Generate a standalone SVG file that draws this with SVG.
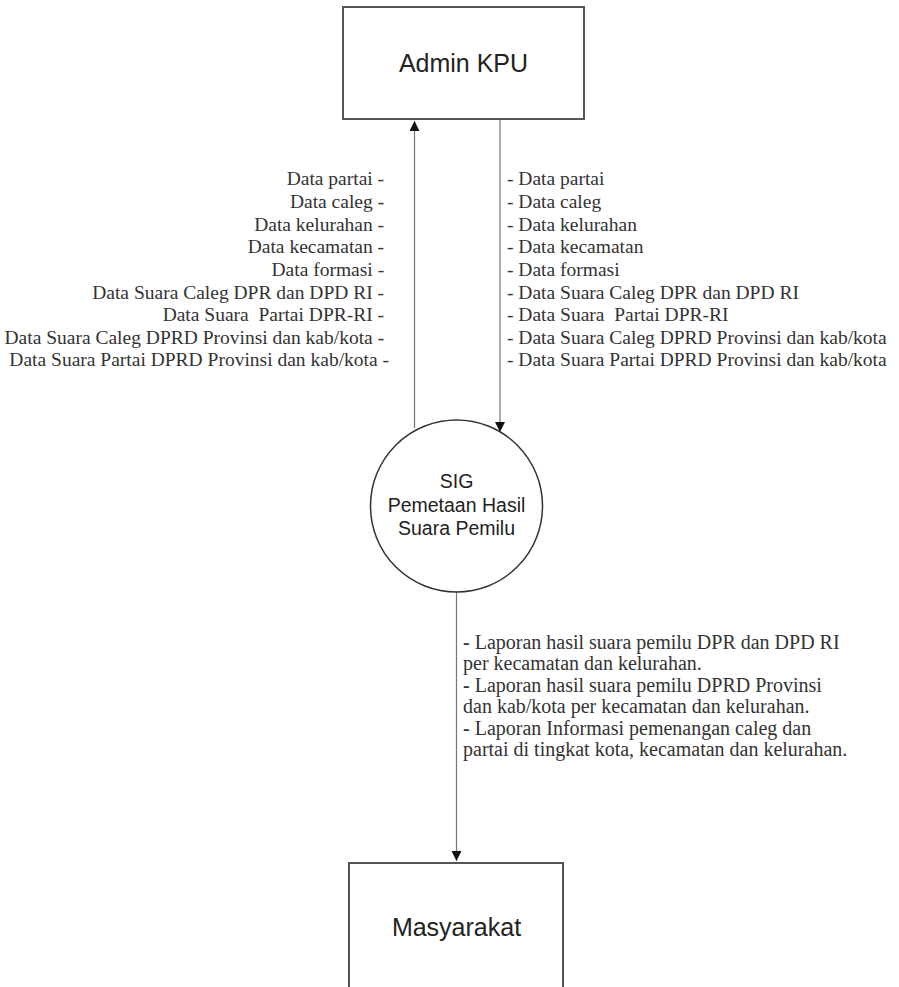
<svg xmlns="http://www.w3.org/2000/svg" width="899" height="987" viewBox="0 0 899 987">
<style>
.box{fill:#fff;stroke:#555;stroke-width:2}
.circ{fill:#fff;stroke:#333;stroke-width:1.5}
.node{font-family:"Liberation Sans",Arial,sans-serif;fill:#222;text-anchor:middle}
.lbl{font-family:"Liberation Serif","Times New Roman",serif;font-size:19.5px;fill:#333}
.rep{font-size:20px}
.flow{stroke:#777;stroke-width:1.2;fill:none}
</style>
<defs>
<marker id="ah" viewBox="0 0 10 12" refX="10" refY="5" markerWidth="10" markerHeight="12" markerUnits="userSpaceOnUse" orient="auto">
<path d="M0,0 L10,5 L0,10 Z" fill="#111"/>
</marker>
</defs>
<rect width="899" height="987" fill="#fff"/>
<g id="connectors">
<line class="flow" x1="414.5" y1="428" x2="414.5" y2="121" marker-end="url(#ah)"/>
<line class="flow" x1="500" y1="120" x2="500" y2="432" marker-end="url(#ah)"/>
<line class="flow" x1="456.5" y1="591" x2="456.5" y2="861" marker-end="url(#ah)"/>
</g>
<g id="admin-kpu">
<rect class="box" x="343" y="7" width="241" height="112"/>
<text class="node" x="463.5" y="72" font-size="25">Admin KPU</text>
</g>
<g id="sig">
<circle class="circ" cx="456.5" cy="506" r="86"/>
<text class="node" font-size="19.5"><tspan x="456.5" y="488">SIG</tspan><tspan x="456.5" y="512">Pemetaan Hasil</tspan><tspan x="456.5" y="535">Suara Pemilu</tspan></text>
</g>
<g id="masyarakat">
<rect class="box" x="349" y="863" width="214" height="140"/>
<text class="node" x="456.5" y="936" font-size="25">Masyarakat</text>
</g>
<g id="label-up">
<text class="lbl" text-anchor="end">
<tspan x="389" y="185">Data partai -</tspan>
<tspan x="389" y="208">Data caleg -</tspan>
<tspan x="389" y="231">Data kelurahan -</tspan>
<tspan x="389" y="253">Data kecamatan -</tspan>
<tspan x="389" y="276">Data formasi -</tspan>
<tspan x="389" y="299">Data Suara Caleg DPR dan DPD RI -</tspan>
<tspan x="389" y="321">Data Suara&#160; Partai DPR-RI -</tspan>
<tspan x="389" y="344">Data Suara Caleg DPRD Provinsi dan kab/kota -</tspan>
<tspan x="389" y="366">Data Suara Partai DPRD Provinsi dan kab/kota -</tspan>
</text>
</g>
<g id="label-down">
<text class="lbl">
<tspan x="507" y="185">- Data partai</tspan>
<tspan x="507" y="208">- Data caleg</tspan>
<tspan x="507" y="231">- Data kelurahan</tspan>
<tspan x="507" y="253">- Data kecamatan</tspan>
<tspan x="507" y="276">- Data formasi</tspan>
<tspan x="507" y="299">- Data Suara Caleg DPR dan DPD RI</tspan>
<tspan x="507" y="321">- Data Suara&#160; Partai DPR-RI</tspan>
<tspan x="507" y="344">- Data Suara Caleg DPRD Provinsi dan kab/kota</tspan>
<tspan x="507" y="366">- Data Suara Partai DPRD Provinsi dan kab/kota</tspan>
</text>
</g>
<g id="label-report">
<text class="lbl rep">
<tspan x="463" y="649"><tspan font-weight="bold">-</tspan> Laporan hasil suara pemilu DPR dan DPD RI</tspan>
<tspan x="463" y="670">per kecamatan dan kelurahan.</tspan>
<tspan x="463" y="692"><tspan font-weight="bold">-</tspan> Laporan hasil suara pemilu DPRD Provinsi</tspan>
<tspan x="463" y="713">dan kab/kota per kecamatan dan kelurahan.</tspan>
<tspan x="463" y="735"><tspan font-weight="bold">-</tspan> Laporan Informasi pemenangan caleg dan</tspan>
<tspan x="463" y="756">partai di tingkat kota, kecamatan dan kelurahan.</tspan>
</text>
</g>
</svg>
